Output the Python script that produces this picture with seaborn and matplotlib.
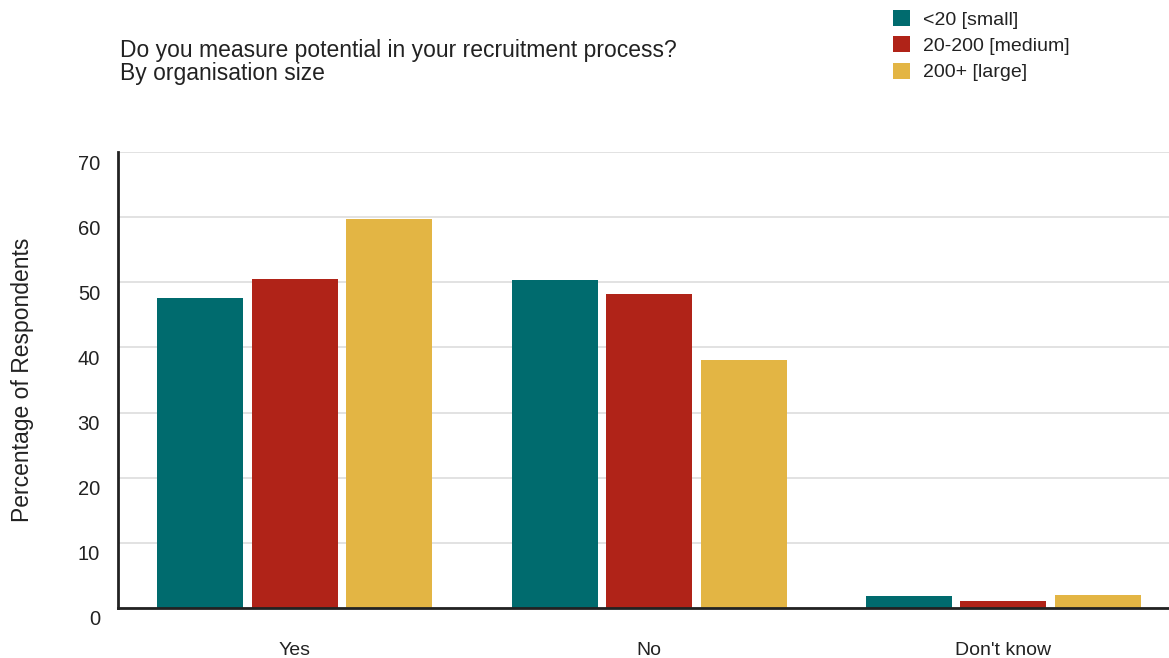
import matplotlib
matplotlib.use("Agg")
import matplotlib.pyplot as plt
import matplotlib.patches as mpatches
from matplotlib.transforms import ScaledTranslation
import pandas as pd
import seaborn as sns

categories = ["Yes", "No", "Don't know"]
sizes = ["<20 [small]", "20-200 [medium]", "200+ [large]"]
small = [47.6, 50.4, 1.8]
medium = [50.5, 48.2, 1.0]
large = [59.7, 38.1, 1.9]
colors = ["#006B6E", "#B02318", "#E3B544"]

rows = []
for size, vals in zip(sizes, [small, medium, large]):
    for cat, v in zip(categories, vals):
        rows.append({"answer": cat, "size": size, "pct": v})
df = pd.DataFrame(rows)

sns.set_theme(style="white")
plt.rcParams["font.family"] = ["Liberation Sans", "DejaVu Sans"]
ink = "#222222"

fig = plt.figure(figsize=(11.69, 6.58), dpi=100)
ax = fig.add_axes([0.101, 0.0765, 0.899, 0.692])

sns.barplot(data=df, x="answer", y="pct", hue="size", order=categories,
            hue_order=sizes, palette=colors, width=0.8, gap=0.09,
            saturation=1, legend=False, ax=ax, linewidth=0)

ax.set_ylim(0, 70)
ax.set_xlim(-0.498, 2.467)
ax.set_yticks(range(0, 71, 10))
ax.yaxis.grid(True, color="#dddddd", linewidth=1.2)
ax.set_axisbelow(True)
for s in ["top", "right"]:
    ax.spines[s].set_visible(False)
for s in ["left", "bottom"]:
    ax.spines[s].set_color(ink)
    ax.spines[s].set_linewidth(2)
ax.tick_params(axis="y", length=0, pad=13, labelsize=14.5, labelcolor=ink)
ax.tick_params(axis="x", direction="in", length=5, width=1.2, color=ink,
               pad=24.5, labelsize=14, labelcolor=ink)
# y tick labels sit slightly below their gridlines
shift = ScaledTranslation(0, -10 / 100, fig.dpi_scale_trans)
for lab in ax.get_yticklabels():
    lab.set_transform(lab.get_transform() + shift)
ax.set_xlabel("")
ax.set_ylabel("Percentage of Respondents", fontsize=16.5, color=ink)
ax.yaxis.set_label_coords(-0.080, 0.5)

fig.text(120 / 1169, 1 - 57 / 658, "Do you measure potential in your recruitment process?",
         ha="left", va="baseline", fontsize=16.5, color=ink)
fig.text(120 / 1169, 1 - 80 / 658, "By organisation size",
         ha="left", va="baseline", fontsize=16.5, color=ink)

handles = [mpatches.Patch(facecolor=c, edgecolor="none", label=l) for c, l in zip(colors, sizes)]
fig.legend(handles=handles, loc="upper left", bbox_to_anchor=(887 / 1169, 1 - 4 / 658),
           frameon=False, fontsize=14, handlelength=0.9, handleheight=0.9,
           handletextpad=0.65, labelspacing=0.39, borderaxespad=0, borderpad=0.3,
           labelcolor=ink)

fig.savefig("out.png", dpi=100)
